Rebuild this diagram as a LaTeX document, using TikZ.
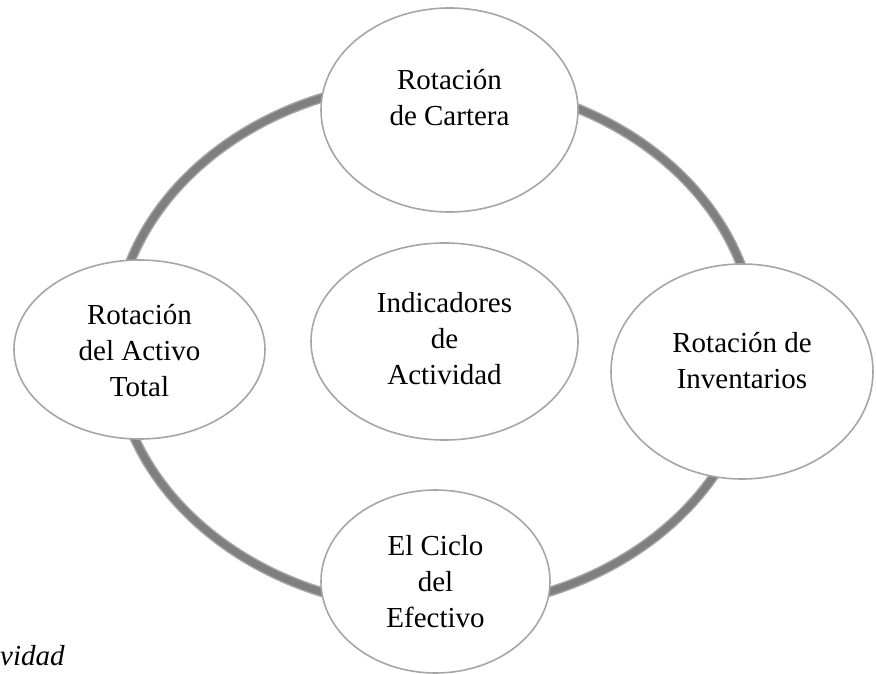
\documentclass[tikz,border=0pt]{standalone}
\usepackage{fontspec}
\setmainfont{Liberation Serif}
\usetikzlibrary{shapes.geometric}
\definecolor{ringlight}{HTML}{A5A5A5}
\definecolor{ringdark}{HTML}{7F7F7F}
\definecolor{bordergray}{HTML}{A6A6A6}
\begin{document}
\begin{tikzpicture}[x=1pt,y=-1pt,
  ell/.style 2 args={ellipse, draw=bordergray, line width=1.6pt, fill=white,
    minimum width=#1pt, minimum height=#2pt, inner sep=0pt, outer sep=0pt},
  txt/.style={font=\fontsize{29}{36}\selectfont, align=center, inner sep=0pt},
  ringout/.style={draw=ringlight, line width=10pt},
  ringin/.style={draw=ringdark, line width=7pt}]
\useasboundingbox (0,0) rectangle (876,674);
\coordinate (ringc) at (435,345);
\draw[ringout] (ringc) ellipse [x radius=321pt, y radius=264pt];
\draw[ringin] (ringc) ellipse [x radius=321pt, y radius=264pt];
% ellipses
\node[ell={257}{204}] (top) at (449.5,110) {};
\node[ell={251}{179}] (left) at (139.5,349.5) {};
\node[ell={267}{197}] (mid) at (444.5,341.5) {};
\node[ell={262}{215}] (right) at (742,371.5) {};
\node[ell={229}{183}] (bottom) at (435.5,581.5) {};
% texts
\node[txt] (topT) at ([yshift=12.5pt]top.center) {Rotación\\de Cartera};
\node[txt] (leftT) at ([yshift=-1.5pt]left.center) {Rotación\\del Activo\\Total};
\node[txt] (midT) at ([yshift=3pt]mid.center) {Indicadores\\de\\Actividad};
\node[txt] (rightT) at ([yshift=11pt]right.center) {Rotación de\\Inventarios};
\node[txt] (bottomT) at ([yshift=-0.5pt]bottom.center) {El Ciclo\\del\\Efectivo};
\node[font=\fontsize{29}{36}\selectfont\itshape, anchor=base west, inner sep=0pt] (cap) at (0,665) {vidad};
\end{tikzpicture}
\end{document}
